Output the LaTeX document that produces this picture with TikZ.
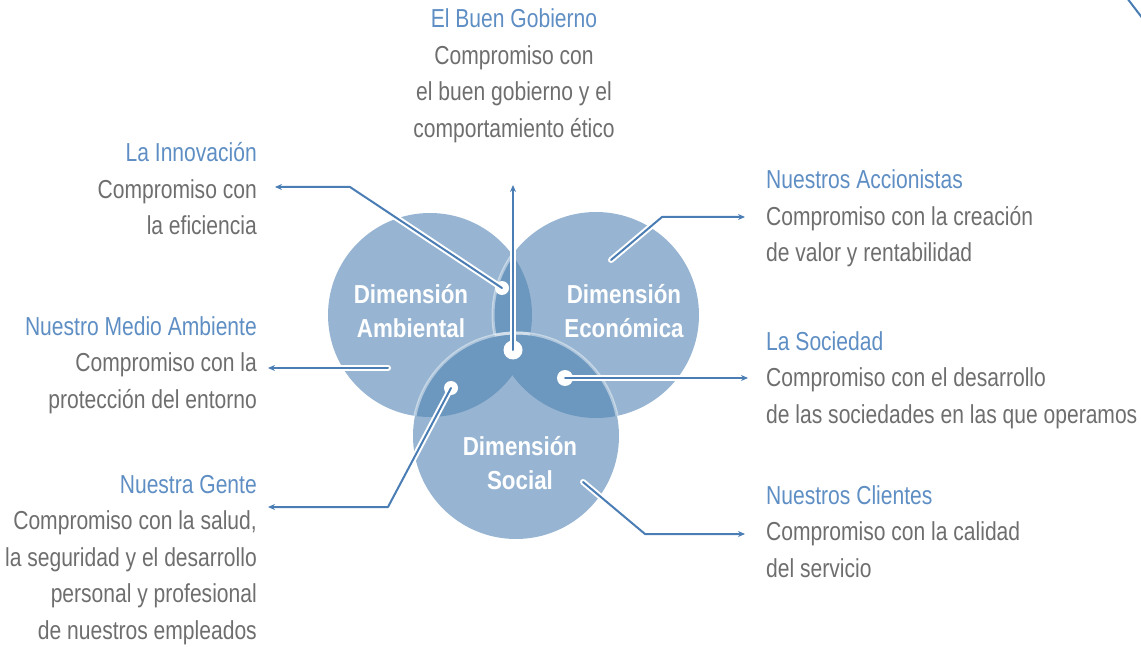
\documentclass[tikz,border=0pt]{standalone}
\usepackage{fontspec}
\setmainfont{Liberation Sans}[FakeStretch=0.81]
\newfontfamily\dimfont{Liberation Sans}[FakeStretch=0.86]
\usetikzlibrary{arrows.meta}
\definecolor{circlight}{RGB}{151,181,210}
\definecolor{circdark}{RGB}{108,151,191}
\definecolor{linkblue}{RGB}{74,125,180}
\definecolor{headblue}{RGB}{94,142,195}
\definecolor{bodygray}{RGB}{110,110,110}
\begin{document}
\begin{tikzpicture}[x=1pt,y=-1pt,
  desc/.style={inner sep=0pt, text=bodygray, font=\fontsize{26}{36.5}\selectfont},
  dimlabel/.style={inner sep=0pt, text=white, font=\dimfont\bfseries\fontsize{26}{34}\selectfont},
  casing/.style={white, line width=6pt, line cap=round, line join=round},
  link/.style={linkblue, line width=2pt, line cap=round, line join=round},
  tipped/.style={link, -{Stealth[length=7pt,width=6pt]}},
  dotw/.style={circle, fill=white, inner sep=0pt},
  rim/.style={white, draw opacity=0.45, line width=3pt}]
\useasboundingbox (0,0) rectangle (1141,647);

% circle centres
\coordinate (cA) at (430,315);
\coordinate (cE) at (596,315);
\coordinate (cS) at (516,436);

% circles
\fill[circlight] (cA) circle[radius=102pt];
\fill[circlight] (cE) circle[radius=103pt];
\begin{scope}
  \clip (cA) circle[radius=102pt];
  \fill[circdark] (cE) circle[radius=103pt];
  \draw[rim] (cE) circle[radius=103pt];
\end{scope}
\fill[circlight] (cS) circle[radius=103pt];
\begin{scope}
  \clip (cS) circle[radius=103pt];
  \fill[circdark] (cA) circle[radius=102pt];
  \fill[circdark] (cE) circle[radius=103pt];
\end{scope}
\begin{scope}
  \clip (cA) circle[radius=102pt];
  \draw[rim] (cS) circle[radius=103pt];
\end{scope}
\begin{scope}
  \clip (cE) circle[radius=103pt];
  \draw[rim] (cS) circle[radius=103pt];
\end{scope}

% circle labels
\node[dimlabel, anchor=base] (lamb) at (411,303) {\begin{tabular}[t]{@{}c@{}}Dimensión\\Ambiental\end{tabular}};
\node[dimlabel, anchor=base] (leco) at (624,303) {\begin{tabular}[t]{@{}c@{}}Dimensión\\Económica\end{tabular}};
\node[dimlabel, anchor=base] (lsoc) at (520,455) {\begin{tabular}[t]{@{}c@{}}Dimensión\\Social\end{tabular}};

% text blocks
\node[desc, anchor=base] (gob) at (514,28) {\begin{tabular}[t]{@{}c@{}}\textcolor{headblue}{El Buen Gobierno}\\Compromiso con\\el buen gobierno y el\\comportamiento ético\end{tabular}};
\node[desc, anchor=base east] (inno) at (257,162) {\begin{tabular}[t]{@{}r@{}}\textcolor{headblue}{La Innovación}\\Compromiso con\\la eficiencia\end{tabular}};
\node[desc, anchor=base east] (med) at (257,335) {\begin{tabular}[t]{@{}r@{}}\textcolor{headblue}{Nuestro Medio Ambiente}\\Compromiso con la\\protección del entorno\end{tabular}};
\node[desc, anchor=base east] (gen) at (257,493) {\begin{tabular}[t]{@{}r@{}}\textcolor{headblue}{Nuestra Gente}\\Compromiso con la salud,\\la seguridad y el desarrollo\\personal y profesional\\de nuestros empleados\end{tabular}};
\node[desc, anchor=base west] (acc) at (766,189) {\begin{tabular}[t]{@{}l@{}}\textcolor{headblue}{Nuestros Accionistas}\\Compromiso con la creación\\de valor y rentabilidad\end{tabular}};
\node[desc, anchor=base west] (soc) at (766,350) {\begin{tabular}[t]{@{}l@{}}\textcolor{headblue}{La Sociedad}\\Compromiso con el desarrollo\\de las sociedades en las que operamos\end{tabular}};
\node[desc, anchor=base west] (cli) at (766,504) {\begin{tabular}[t]{@{}l@{}}\textcolor{headblue}{Nuestros Clientes}\\Compromiso con la calidad\\del servicio\end{tabular}};

% connector points
\coordinate (eAcc) at (611,260);
\coordinate (eMed) at (388,368);
\coordinate (eCli) at (583,482);
\coordinate (bInno) at (350,187);
\coordinate (bAcc) at (662,217);
\coordinate (bGen) at (388,507);
\coordinate (bCli) at (645,534);
\coordinate (tInno) at (275,187);
\coordinate (tGob) at (513,185);
\coordinate (tAcc) at (745,217);
\coordinate (tMed) at (268,368);
\coordinate (tSoc) at (748,378);
\coordinate (tGen) at (268,507);
\coordinate (tCli) at (745,534);

% casings
\draw[casing] (502,288) -- (bInno);
\draw[casing] (513,350) -- (513,200);
\draw[casing] (eAcc) -- (bAcc);
\draw[casing] (eMed) -- (300,368);
\draw[casing] (565,378) -- (720,378);
\draw[casing] (451,388) -- (bGen);
\draw[casing] (eCli) -- (bCli);

% dots
\node[dotw, minimum size=14pt] (dInno) at (502,288) {};
\node[dotw, minimum size=19pt] (dGob) at (513,350) {};
\node[dotw, minimum size=16pt] (dSoc) at (565,378) {};
\node[dotw, minimum size=14pt] (dGen) at (451,388) {};

% connectors
\draw[tipped] (dInno.center) -- (bInno) -- (tInno);
\draw[tipped] (dGob.center) -- (tGob);
\draw[tipped] (eAcc) -- (bAcc) -- (tAcc);
\draw[tipped] (eMed) -- (tMed);
\draw[tipped] (dSoc.center) -- (tSoc);
\draw[tipped] (dGen.center) -- (bGen) -- (tGen);
\draw[tipped] (eCli) -- (bCli) -- (tCli);

% stray stroke at top right
\draw[linkblue, line width=2pt] (1127,-2) -- (1143,19);
\end{tikzpicture}
\end{document}
